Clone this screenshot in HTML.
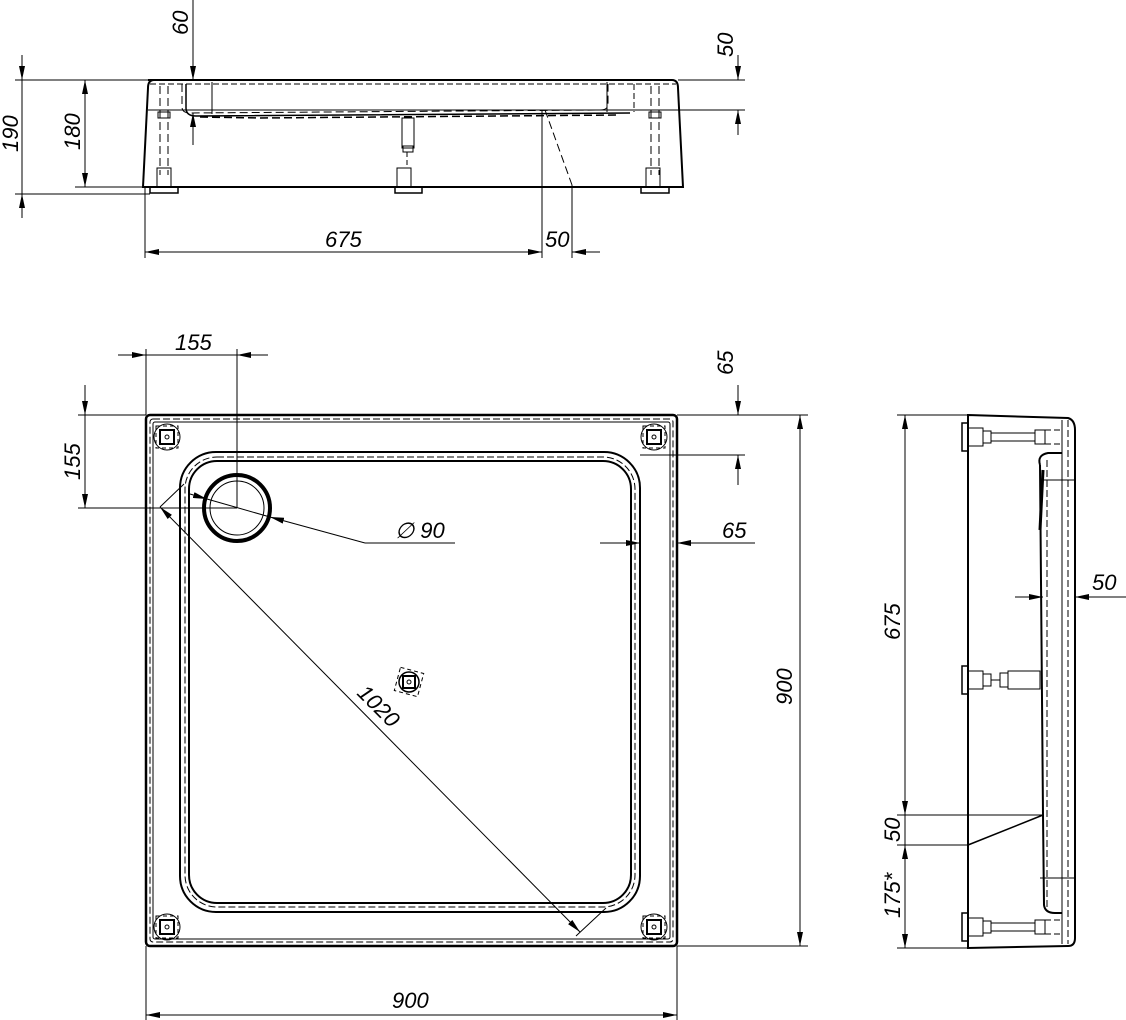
<!DOCTYPE html>
<html><head><meta charset="utf-8"><style>
html,body{margin:0;padding:0;background:#fff;}
svg{display:block}
text{font-family:"Liberation Sans",sans-serif;font-style:italic;font-size:22px;fill:#000}
</style></head><body>
<svg width="1126" height="1020" viewBox="0 0 1126 1020" xmlns="http://www.w3.org/2000/svg">
<defs>
<marker id="a" markerWidth="14" markerHeight="6" refX="14" refY="3" orient="auto-start-reverse" markerUnits="userSpaceOnUse">
<path d="M0,0 L14,3 L0,6 Z" fill="#000"/></marker>
</defs>
<g fill="none" stroke="#000" stroke-width="1">
<path d="M148,80 L672,80 Q678,80 678,88 L683,187 L143,187 L148,88 Q148,80 154,80" stroke-width="2"/>
<line x1="150" y1="84" x2="676" y2="84" stroke-dasharray="6,3"/>
<path d="M182,84 L182,107 Q182,113 190,113 L600,110 Q608,110 608,104 L608,84" stroke-dasharray="8,4"/>
<path d="M186,84 L186,108 Q186,116 196,116 L630,113" stroke-width="1.5"/>
<path d="M200,117 L260,118 L620,115" stroke-dasharray="8,4" stroke-width="1.5"/>
<line x1="634" y1="84" x2="634" y2="112" stroke-dasharray="6,3"/>
<line x1="212" y1="82" x2="212" y2="114"/>
<line x1="607" y1="82" x2="607" y2="112"/>
<line x1="160" y1="86" x2="160" y2="175" stroke-dasharray="8,4"/>
<line x1="168" y1="86" x2="168" y2="175" stroke-dasharray="8,4"/>
<line x1="651" y1="86" x2="651" y2="175" stroke-dasharray="8,4"/>
<line x1="659" y1="86" x2="659" y2="175" stroke-dasharray="8,4"/>
<rect x="158" y="112" width="12" height="6"/>
<rect x="649" y="112" width="12" height="6"/>
<rect x="157" y="168" width="14" height="19"/>
<rect x="397" y="168" width="14" height="19"/>
<rect x="646" y="168" width="14" height="19"/>
<rect x="150" y="187" width="28" height="6" stroke-width="1.5"/>
<rect x="395" y="187" width="27" height="6" stroke-width="1.5"/>
<rect x="641" y="187" width="28" height="6" stroke-width="1.5"/>
<rect x="402" y="118" width="12" height="30"/>
<rect x="403" y="146" width="10" height="6"/>
<line x1="407" y1="152" x2="407" y2="168" stroke-dasharray="5,3"/>
<line x1="15" y1="80" x2="148" y2="80"/>
<line x1="15" y1="194" x2="150" y2="194"/>
<line x1="75" y1="187" x2="143" y2="187"/>
<line x1="22" y1="55" x2="22" y2="80" marker-end="url(#a)"/>
<line x1="22" y1="218" x2="22" y2="194" marker-end="url(#a)"/>
<line x1="22" y1="80" x2="22" y2="194"/>
<line x1="85" y1="80" x2="85" y2="187" marker-start="url(#a)" marker-end="url(#a)"/>
<line x1="193" y1="0" x2="193" y2="80" marker-end="url(#a)"/>
<line x1="193" y1="145" x2="193" y2="113" marker-end="url(#a)"/>
<line x1="148" y1="110" x2="745" y2="110"/>
<line x1="678" y1="80" x2="745" y2="80"/>
<line x1="738" y1="55" x2="738" y2="80" marker-end="url(#a)"/>
<line x1="738" y1="135" x2="738" y2="110" marker-end="url(#a)"/>
<line x1="145" y1="187" x2="145" y2="258"/>
<line x1="542" y1="110" x2="542" y2="258"/>
<line x1="545" y1="110" x2="572" y2="185" stroke-dasharray="8,4"/>
<line x1="572" y1="185" x2="572" y2="258"/>
<line x1="145" y1="252" x2="542" y2="252" marker-start="url(#a)" marker-end="url(#a)"/>
<line x1="600" y1="252" x2="572" y2="252" marker-end="url(#a)"/>
<rect x="146" y="415" width="531" height="531" rx="4" stroke-width="2.5"/>
<rect x="150" y="419" width="523" height="523" rx="3" stroke-dasharray="7,3"/>
<rect x="153" y="422" width="517" height="517" rx="2"/>
<rect x="180" y="452" width="460" height="460" rx="36" stroke-width="2"/>
<rect x="185" y="457" width="450" height="450" rx="32" stroke-dasharray="7,3"/>
<rect x="189" y="461" width="442" height="442" rx="28" stroke-width="2"/>
<circle cx="237" cy="508" r="33" stroke-width="4"/>
<circle cx="237" cy="508" r="27"/>
<g id="ft">
<circle cx="167" cy="437" r="13"/><rect x="160" y="430" width="14" height="14" stroke-width="2"/>
<circle cx="167" cy="437" r="2"/><rect x="156" y="426" width="22" height="22" stroke-dasharray="4,3"/></g>
<use href="#ft" x="487"/><use href="#ft" y="490"/><use href="#ft" x="487" y="490"/>
<g transform="rotate(15 409 682)"><rect x="397" y="670" width="24" height="24" stroke-dasharray="4,3"/></g>
<circle cx="409" cy="682" r="10" stroke-width="1.5"/><rect x="403" y="676" width="12" height="12" stroke-width="2"/><circle cx="409" cy="682" r="2"/>
<line x1="146" y1="349" x2="146" y2="415"/>
<line x1="237" y1="349" x2="237" y2="508"/>
<line x1="118" y1="355" x2="146" y2="355" marker-end="url(#a)"/>
<line x1="268" y1="355" x2="237" y2="355" marker-end="url(#a)"/>
<line x1="146" y1="355" x2="237" y2="355"/>
<line x1="78" y1="415" x2="146" y2="415"/>
<line x1="78" y1="508" x2="237" y2="508"/>
<line x1="85" y1="385" x2="85" y2="415" marker-end="url(#a)"/>
<line x1="85" y1="415" x2="85" y2="508" marker-end="url(#a)"/>
<line x1="677" y1="415" x2="745" y2="415"/>
<line x1="640" y1="455" x2="745" y2="455"/>
<line x1="738" y1="385" x2="738" y2="415" marker-end="url(#a)"/>
<line x1="738" y1="485" x2="738" y2="455" marker-end="url(#a)"/>
<line x1="600" y1="543" x2="640" y2="543" marker-end="url(#a)"/>
<line x1="755" y1="543" x2="677" y2="543" marker-end="url(#a)"/>
<line x1="677" y1="415" x2="808" y2="415"/>
<line x1="677" y1="946" x2="808" y2="946"/>
<line x1="800" y1="415" x2="800" y2="946" marker-start="url(#a)" marker-end="url(#a)"/>
<line x1="146" y1="946" x2="146" y2="1022"/>
<line x1="677" y1="946" x2="677" y2="1022"/>
<line x1="146" y1="1015" x2="677" y2="1015" marker-start="url(#a)" marker-end="url(#a)"/>
<line x1="160" y1="507" x2="580" y2="932" marker-start="url(#a)" marker-end="url(#a)"/>
<line x1="160" y1="507" x2="184" y2="484"/>
<line x1="576" y1="936" x2="606" y2="908"/>
<line x1="190" y1="494" x2="207" y2="499" marker-end="url(#a)"/>
<line x1="207" y1="499" x2="270" y2="517"/>
<line x1="365" y1="543" x2="270" y2="517" marker-end="url(#a)"/>
<line x1="365" y1="543" x2="455" y2="543"/>
<path d="M968,415 L1068,418 Q1075,420 1075,430 L1075,938 Q1075,946 1068,946 L968,948 Z" stroke-width="2"/>
<line x1="1068" y1="420" x2="1068" y2="944" stroke-dasharray="7,3"/>
<line x1="1062" y1="420" x2="1062" y2="944"/>
<path d="M1040,465 Q1037,455 1048,453 L1062,453" stroke-width="2"/>
<path d="M1040,465 L1043,815 L1044,905 Q1045,913 1055,913 L1062,913" stroke-width="2"/>
<line x1="1047" y1="460" x2="1047" y2="910" stroke-dasharray="7,3"/>
<line x1="1043" y1="470" x2="1040" y2="530" stroke-width="3"/>
<line x1="1040" y1="480" x2="1075" y2="480"/>
<line x1="1040" y1="878" x2="1075" y2="878"/>
<g id="sf"><rect x="962" y="423" width="6" height="28" stroke-width="1.5"/><rect x="968" y="428" width="15" height="18"/><rect x="983" y="431" width="8" height="12"/>
<line x1="991" y1="433" x2="1035" y2="433"/><line x1="991" y1="441" x2="1035" y2="441"/><rect x="1035" y="430" width="10" height="14"/>
<line x1="1045" y1="430" x2="1062" y2="430" stroke-dasharray="6,3"/><line x1="1045" y1="444" x2="1062" y2="444" stroke-dasharray="6,3"/></g>
<use href="#sf" y="490"/>
<rect x="962" y="666" width="6" height="28" stroke-width="1.5"/><rect x="968" y="671" width="15" height="18"/><rect x="983" y="674" width="8" height="12"/>
<rect x="1000" y="673" width="8" height="14"/><rect x="1008" y="671" width="32" height="18"/>
<line x1="991" y1="680" x2="1000" y2="680"/>
<line x1="897" y1="415" x2="968" y2="415"/>
<line x1="897" y1="815" x2="1043" y2="815"/>
<line x1="897" y1="845" x2="968" y2="845"/>
<line x1="968" y1="845" x2="1043" y2="815" stroke-width="1.5"/>
<line x1="897" y1="948" x2="968" y2="948"/>
<line x1="905" y1="415" x2="905" y2="815" marker-start="url(#a)" marker-end="url(#a)"/>
<line x1="905" y1="815" x2="905" y2="948"/>
<line x1="905" y1="845" x2="905" y2="948" marker-start="url(#a)" marker-end="url(#a)"/>
<line x1="1015" y1="597" x2="1043" y2="597" marker-end="url(#a)"/>
<line x1="1126" y1="597" x2="1075" y2="597" marker-end="url(#a)"/>
</g>
<text transform="translate(18,152) rotate(-90)">190</text>
<text transform="translate(80,150) rotate(-90)">180</text>
<text transform="translate(188,35) rotate(-90)">60</text>
<text transform="translate(733,57) rotate(-90)">50</text>
<text x="325" y="247">675</text>
<text x="545" y="247">50</text>
<text x="175" y="350">155</text>
<text transform="translate(80,480) rotate(-90)">155</text>
<text transform="translate(733,375) rotate(-90)">65</text>
<text x="722" y="538">65</text>
<text x="395" y="538">∅ 90</text>
<text transform="translate(792,705) rotate(-90)">900</text>
<text x="392" y="1008">900</text>
<text transform="translate(356,694) rotate(45)">1020</text>
<text transform="translate(900,640) rotate(-90)">675</text>
<text transform="translate(900,842) rotate(-90)">50</text>
<text transform="translate(900,918) rotate(-90)">175*</text>
<text x="1092" y="590">50</text>
</svg>
</body></html>
